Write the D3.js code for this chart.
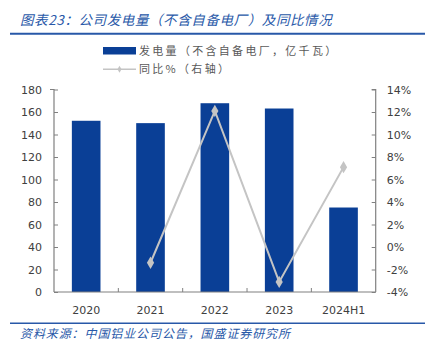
<!DOCTYPE html>
<html><head><meta charset="utf-8">
<script src="https://cdn.jsdelivr.net/npm/d3@7"></script>
<style>
body{margin:0;background:#fff;}
svg{display:block;}
</style></head>
<body><svg id="c" width="435" height="354"></svg>
<script>
const categories = ["2020","2021","2022","2023","2024H1"];
const generation = [152.2, 150.1, 167.8, 163.1, 75.1];
const yoyCategories = ["2021","2022","2023","2024H1"];
const yoy = [-1.4, 12.1, -3.1, 7.1];
const leftTicks = [0,20,40,60,80,100,120,140,160,180];
const rightTicks = [-4,-2,0,2,4,6,8,10,12,14];
const titleText = "图表23：公司发电量（不含自备电厂）及同比情况";
const sourceText = "资料来源：中国铝业公司公告，国盛证券研究所";
const legendBar = "发电量（不含自备电厂，亿千瓦）";
const legendLine = "同比%（右轴）";

const svg = d3.select("#c");
const blue = "#0a3f96", ruleBlue = "#2858a8", grey = "#c4c4c4", txt = "#404040";
const cjk = "'Noto Sans CJK SC', sans-serif";
const num = "'DejaVu Sans', Verdana, sans-serif";

const L = 54, R = 375.7, T = 89.5, B = 292;
const x = d3.scaleBand().domain(categories).range([L, R]).paddingInner(0.555).paddingOuter(0.2775);
const y = d3.scaleLinear().domain([0,180]).range([B, T]);
const y2 = d3.scaleLinear().domain([-4,14]).range([B, T]);

// title
svg.append("text").attr("x",20).attr("y",25).attr("font-family",cjk).attr("font-style","italic")
  .attr("font-size",13.5).attr("fill",ruleBlue).attr("letter-spacing",0.6).text(titleText);
svg.append("line").attr("x1",10).attr("x2",425).attr("y1",33.7).attr("y2",33.7).attr("stroke",ruleBlue).attr("stroke-width",2);

// legend
svg.append("rect").attr("x",103).attr("y",47).attr("width",33).attr("height",7.5).attr("fill",blue);
svg.append("text").attr("x",139).attr("y",55).attr("font-family",cjk).attr("font-size",11)
  .attr("letter-spacing",2.3).attr("fill","#595959").text(legendBar);
svg.append("line").attr("x1",103).attr("x2",136).attr("y1",69.3).attr("y2",69.3).attr("stroke",grey).attr("stroke-width",1.5);
svg.append("path").attr("d",d3.symbol(d3.symbolDiamond,14)()).attr("transform","translate(119.5,69.3)").attr("fill",grey);
svg.append("text").attr("x",139).attr("y",73).attr("font-family",cjk).attr("font-size",11)
  .attr("letter-spacing",2.3).attr("fill","#595959").text(legendLine);

// bars
svg.append("g").selectAll("rect").data(categories).join("rect")
  .attr("x", d => x(d)).attr("width", x.bandwidth())
  .attr("y", (d,i) => y(generation[i])).attr("height", (d,i) => B - y(generation[i]))
  .attr("fill", blue);

// axes
const gl = svg.append("g").attr("transform",`translate(${L},0)`)
  .call(d3.axisLeft(y).tickValues(leftTicks).tickSize(-4).tickPadding(12));
const gr = svg.append("g").attr("transform",`translate(${R},0)`)
  .call(d3.axisRight(y2).tickValues(rightTicks).tickSize(-4).tickPadding(11).tickFormat(d => d + "%"));
const gb = svg.append("g").attr("transform",`translate(0,${B})`)
  .call(d3.axisBottom(x).tickSize(0).tickPadding(14));
[gl,gr,gb].forEach(g => {
  g.select(".domain").attr("stroke","#808080").attr("stroke-width",1.2);
  g.selectAll(".tick line").attr("stroke","#808080");
  g.selectAll("text").attr("font-family",num).attr("font-size",11).attr("fill",txt);
});
gl.select(".domain").attr("d",`M-4,${T}H0V${B}H-0`);
gr.select(".domain").attr("d",`M-4,${T}H0V${B}H0`);
// bottom inner ticks at band boundaries
const step = x.step();
svg.append("g").selectAll("line").data(categories.slice(1)).join("line")
  .attr("x1", d => x(d) - x.paddingInner()*step/2).attr("x2", d => x(d) - x.paddingInner()*step/2)
  .attr("y1",B).attr("y2",B-4).attr("stroke","#808080");
gb.select(".domain").attr("d",`M${L},0H${R}`);

// line
const lx = d => x(d) + x.bandwidth()/2;
const line = d3.line().x((d,i) => lx(yoyCategories[i])).y(d => y2(d));
svg.append("path").datum(yoy).attr("d",line).attr("fill","none").attr("stroke",grey).attr("stroke-width",2);
svg.append("g").selectAll("path").data(yoy).join("path")
  .attr("d", d3.symbol(d3.symbolDiamond,45)())
  .attr("transform",(d,i) => `translate(${lx(yoyCategories[i])},${y2(d)})`)
  .attr("fill",grey);

// footer
svg.append("line").attr("x1",10).attr("x2",425).attr("y1",323.3).attr("y2",323.3).attr("stroke",ruleBlue).attr("stroke-width",1.5);
svg.append("text").attr("x",20).attr("y",337.5).attr("font-family",cjk).attr("font-style","italic")
  .attr("font-size",12).attr("fill",ruleBlue).attr("letter-spacing",0.9).text(sourceText);
</script></body></html>
